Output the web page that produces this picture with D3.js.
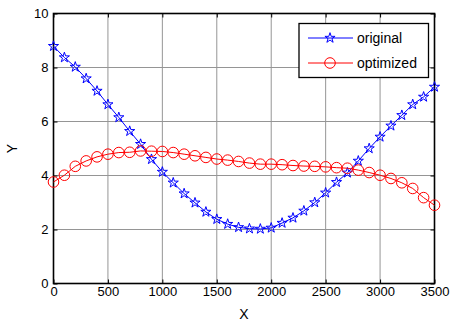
<!DOCTYPE html>
<html>
<head>
<meta charset="utf-8">
<script src="https://cdn.jsdelivr.net/npm/d3@7"></script>
<style>
  body { margin: 0; background: #fff; }
  svg { display: block; font-family: 'Liberation Sans', Arial, sans-serif; }
</style>
</head>
<body>
<svg id="chart"></svg>
<script>
// x positions, every 100
const xs = d3.range(0, 3501, 100);
const original = [8.79, 8.37, 8.02, 7.59, 7.13, 6.63, 6.15, 5.64, 5.16, 4.6, 4.13, 3.73, 3.33, 2.99, 2.65, 2.38,
  2.2, 2.08, 2.03, 2.02, 2.06, 2.24, 2.43, 2.69, 3.0, 3.36, 3.75, 4.1, 4.54, 5.0, 5.43, 5.84, 6.23, 6.63, 6.91, 7.28];
const optimized = [3.76, 4.01, 4.34, 4.54, 4.69, 4.79, 4.85, 4.86, 4.91, 4.9, 4.89, 4.85, 4.79, 4.73, 4.67, 4.61,
  4.57, 4.52, 4.46, 4.42, 4.42, 4.4, 4.37, 4.35, 4.34, 4.32, 4.29, 4.27, 4.2, 4.11, 4.01, 3.89, 3.73, 3.52, 3.18, 2.9];
const xTicks = [0, 500, 1000, 1500, 2000, 2500, 3000, 3500];
const yTicks = [0, 2, 4, 6, 8, 10];
const seriesNames = ['original', 'optimized'];

const width = 452, height = 327;
const marginTop = 13.5, marginRight = 17.5, marginBottom = 43.5, marginLeft = 53.5;

const svg = d3.select('#chart').attr('width', width).attr('height', height).attr('viewBox', [0, 0, width, height]);

const x = d3.scaleLinear([0, 3500], [marginLeft, width - marginRight]);
const y = d3.scaleLinear([0, 10], [height - marginBottom, marginTop]);
const plotL = x.range()[0], plotR = x.range()[1], plotT = y.range()[1], plotB = y.range()[0];

// grid
const grid = svg.append('g').attr('stroke', '#959595').attr('stroke-width', 1);
grid.selectAll('.gx').data(xTicks.slice(1, -1)).join('line')
  .attr('x1', (d) => x(d)).attr('x2', (d) => x(d)).attr('y1', plotT).attr('y2', plotB);
grid.selectAll('.gy').data(yTicks.slice(1, -1)).join('line')
  .attr('x1', plotL).attr('x2', plotR).attr('y1', (d) => y(d)).attr('y2', (d) => y(d));

// axes (inward ticks on all sides)
const tickLen = 4;
const fmt = d3.format('d');
const styleAxis = (g) => {
  g.select('.domain').remove();
  g.selectAll('.tick line').attr('stroke', '#000');
  g.selectAll('.tick text').attr('fill', '#000').style('font-size', '13px');
};
svg.append('g').attr('transform', `translate(0,${plotB})`)
  .call(d3.axisBottom(x).tickValues(xTicks).tickFormat(fmt).tickSizeInner(-tickLen).tickSizeOuter(0).tickPadding(3))
  .call(styleAxis);
svg.append('g').attr('transform', `translate(${plotL},0)`)
  .call(d3.axisLeft(y).tickValues(yTicks).tickFormat(fmt).tickSizeInner(-tickLen).tickSizeOuter(0).tickPadding(5))
  .call(styleAxis);
svg.append('g').attr('transform', `translate(0,${plotT})`)
  .call(d3.axisTop(x).tickValues(xTicks).tickSizeInner(-tickLen).tickSizeOuter(0).tickFormat(''))
  .call(styleAxis);
svg.append('g').attr('transform', `translate(${plotR},0)`)
  .call(d3.axisRight(y).tickValues(yTicks).tickSizeInner(-tickLen).tickSizeOuter(0).tickFormat(''))
  .call(styleAxis);

svg.append('rect').attr('x', plotL).attr('y', plotT).attr('width', plotR - plotL).attr('height', plotB - plotT)
  .attr('fill', 'none').attr('stroke', '#000').attr('stroke-width', 1.6);

// axis labels
svg.append('text').attr('x', (plotL + plotR) / 2).attr('y', 319).attr('text-anchor', 'middle')
  .style('font-size', '14px').text('X');
svg.append('text').attr('transform', `translate(16.5,${(plotT + plotB) / 2}) rotate(-90)`).attr('text-anchor', 'middle')
  .style('font-size', '14px').text('Y');

// series
const star = d3.symbol(d3.symbolStar, 32);
const line = d3.line().x((d, i) => x(xs[i])).y((d) => y(d));

const drawSeries = (vals, color, marker) => {
  const g = svg.append('g');
  g.append('path').attr('d', line(vals)).attr('fill', 'none').attr('stroke', color).attr('stroke-width', 1);
  if (marker === 'star') {
    g.selectAll('path.m').data(vals).join('path').attr('class', 'm')
      .attr('d', star).attr('transform', (d, i) => `translate(${x(xs[i])},${y(d)})`)
      .attr('fill', 'none').attr('stroke', color).attr('stroke-width', 1);
  } else {
    g.selectAll('circle').data(vals).join('circle')
      .attr('cx', (d, i) => x(xs[i])).attr('cy', (d) => y(d)).attr('r', 5.3)
      .attr('fill', 'none').attr('stroke', color).attr('stroke-width', 1);
  }
};
drawSeries(original, '#0000ff', 'star');
drawSeries(optimized, '#ff0000', 'circle');

// legend
const legend = svg.append('g');
legend.append('rect').attr('x', 299).attr('y', 23.5).attr('width', 129.5).attr('height', 54)
  .attr('fill', '#fff').attr('stroke', '#000').attr('stroke-width', 1.3);
const legRows = [
  { name: seriesNames[0], color: '#0000ff', marker: 'star', y: 38 },
  { name: seriesNames[1], color: '#ff0000', marker: 'circle', y: 63 },
];
legRows.forEach((r) => {
  legend.append('line').attr('x1', 308).attr('x2', 353).attr('y1', r.y).attr('y2', r.y)
    .attr('stroke', r.color).attr('stroke-width', 1);
  if (r.marker === 'star') {
    legend.append('path').attr('d', star()).attr('transform', `translate(330,${r.y})`)
      .attr('fill', 'none').attr('stroke', r.color);
  } else {
    legend.append('circle').attr('cx', 330).attr('cy', r.y).attr('r', 5.3)
      .attr('fill', 'none').attr('stroke', r.color);
  }
  legend.append('text').attr('x', 357).attr('y', r.y + 5).style('font-size', '14px').text(r.name);
});
</script>
</body>
</html>
